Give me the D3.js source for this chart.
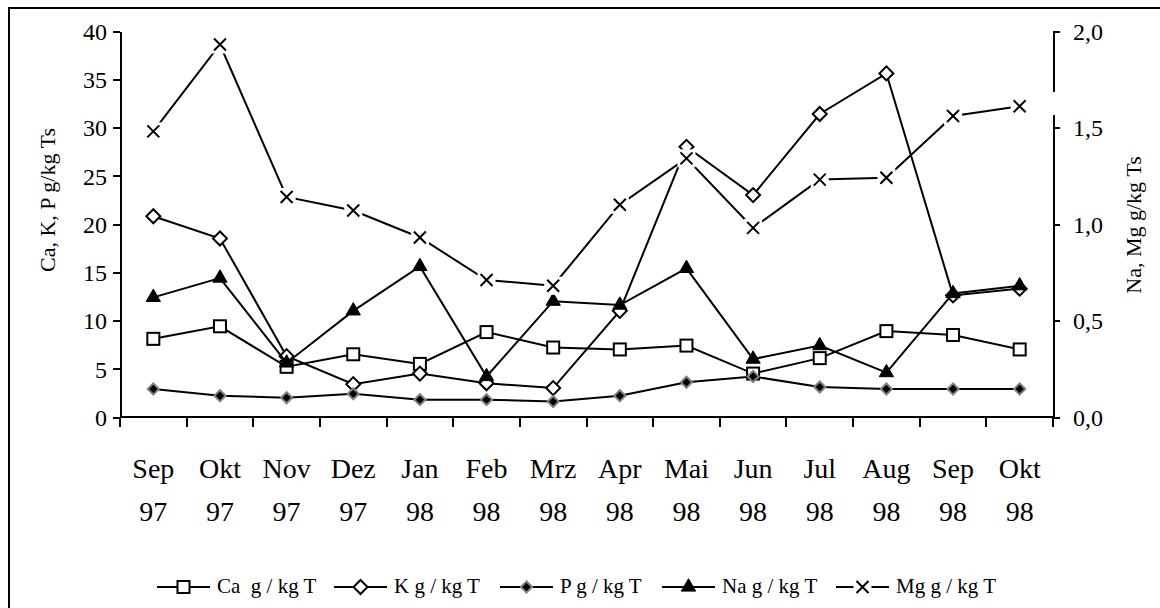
<!DOCTYPE html>
<html>
<head>
<meta charset="utf-8">
<script src="https://cdn.jsdelivr.net/npm/d3@7"></script>
<style>
    body { margin: 0; background: #fff; }
    svg { display: block; font-family: "Liberation Serif", "Times New Roman", serif; }
    .axis path, .axis line { stroke: #000; stroke-width: 2px; shape-rendering: crispEdges; }
    .axis text { fill: #000; font-family: "Liberation Serif", "Times New Roman", serif; }
</style>
</head>
<body>
<div id="chart"></div>
<script>

// Categories (month + year, split into two lines on the axis)
var categories = ["Sep 97", "Okt 97", "Nov 97", "Dez 97", "Jan 98", "Feb 98", "Mrz 98",
                  "Apr 98", "Mai 98", "Jun 98", "Jul 98", "Aug 98", "Sep 98", "Okt 98"];

// Left axis series (g/kg Ts)
var caValues = [8.1, 9.4, 5.2, 6.5, 5.5, 8.8, 7.2, 7.0, 7.4, 4.5, 6.1, 8.9, 8.5, 7.0];
var kValues  = [20.8, 18.5, 6.3, 3.4, 4.5, 3.5, 3.0, 11.0, 28.0, 23.0, 31.4, 35.6, 12.6, 13.3];
var pValues  = [2.9, 2.2, 2.0, 2.4, 1.8, 1.8, 1.6, 2.2, 3.6, 4.2, 3.1, 2.9, 2.9, 2.9];

// Right axis series (g/kg Ts)
var naValues = [0.62, 0.72, 0.28, 0.55, 0.78, 0.21, 0.60, 0.58, 0.77, 0.30, 0.37, 0.23, 0.64, 0.68];
var mgValues = [1.48, 1.93, 1.14, 1.07, 0.93, 0.71, 0.68, 1.10, 1.34, 0.98, 1.23, 1.24, 1.56, 1.61];

// Tick values
var leftTicks = [0, 5, 10, 15, 20, 25, 30, 35, 40];
var rightTicks = [0, 0.5, 1, 1.5, 2];

var legendLabels = ["Ca  g / kg T", "K g / kg T", "P g / kg T", "Na g / kg T", "Mg g / kg T"];

(function(d3) {

    var width = 1160, height = 608;
    var plot = {left: 120, right: 1053, top: 31, bottom: 417};

    var svg = d3.select("#chart").append("svg")
        .attr("width", width)
        .attr("height", height);

    // outer frame (runs off the right and bottom edge)
    svg.append("rect")
        .attr("x", 9).attr("y", 8)
        .attr("width", 1200).attr("height", 700)
        .attr("fill", "none").attr("stroke", "#000").attr("stroke-width", 2);

    // scales
    var x = d3.scaleBand().domain(categories).range([plot.left, plot.right]);
    var yL = d3.scaleLinear().domain([0, 40]).range([plot.bottom, plot.top]);
    var yR = d3.scaleLinear().domain([0, 2]).range([plot.bottom, plot.top]);
    var cx = function(i) { return x(categories[i]) + x.bandwidth() / 2; };

    // left axis
    var leftAxis = svg.append("g")
        .attr("class", "axis")
        .attr("transform", "translate(" + plot.left + ",0)")
        .call(d3.axisLeft(yL).tickValues(leftTicks).tickSize(7).tickSizeOuter(0).tickPadding(6));
    leftAxis.selectAll("text").style("font-size", "24px").attr("dy", "0.35em");

    // right axis, with the little break near the top
    var rightAxis = svg.append("g")
        .attr("class", "axis")
        .attr("transform", "translate(" + plot.right + ",0)")
        .call(d3.axisRight(yR).tickValues(rightTicks).tickSize(7).tickSizeOuter(0).tickPadding(13)
            .tickFormat(function(d) { return d3.format(".1f")(d).replace(".", ","); }));
    rightAxis.selectAll("text").style("font-size", "24px").attr("dy", "0.35em");
    rightAxis.append("rect")
        .attr("x", -3).attr("width", 6)
        .attr("y", yR(1.684)).attr("height", yR(1.565) - yR(1.684))
        .attr("fill", "#fff");

    // x axis: ticks on category boundaries
    var xAxis = svg.append("g")
        .attr("class", "axis")
        .attr("transform", "translate(0," + plot.bottom + ")");
    xAxis.append("line")
        .attr("x1", plot.left).attr("x2", plot.right)
        .attr("y1", 0).attr("y2", 0);
    var bounds = categories.map(function(c) { return x(c); }).concat([plot.right]);
    xAxis.selectAll("line.tick")
        .data(bounds)
        .enter().append("line")
        .attr("class", "tick")
        .attr("x1", function(d) { return d; }).attr("x2", function(d) { return d; })
        .attr("y1", 0).attr("y2", 10);
    var labels = xAxis.selectAll("text")
        .data(categories)
        .enter().append("text")
        .attr("text-anchor", "middle")
        .style("font-size", "28px")
        .attr("transform", function(d) { return "translate(" + (x(d) + x.bandwidth() / 2) + ",0)"; });
    labels.append("tspan").attr("x", 0).attr("y", 61).text(function(d) { return d.split(" ")[0]; });
    labels.append("tspan").attr("x", 0).attr("y", 104).text(function(d) { return d.split(" ")[1]; });

    // axis titles
    svg.append("text")
        .attr("transform", "translate(55,200) rotate(-90)")
        .attr("text-anchor", "middle")
        .style("font-size", "22px")
        .text("Ca, K, P g/kg Ts");
    svg.append("text")
        .attr("transform", "translate(1141,225) rotate(-90)")
        .attr("text-anchor", "middle")
        .style("font-size", "22px")
        .text("Na, Mg g/kg Ts");

    // marker drawing helpers
    var diamondBig = d3.symbol().type(d3.symbolSquare).size(98);
    var diamondSmall = d3.symbol().type(d3.symbolSquare).size(62);
    var triangle = d3.symbol().type(d3.symbolTriangle).size(88);
    var crossPath = "M-6,-6L6,6M-6,6L6,-6";

    var markers = {
        square: function(g) {
            g.append("rect").attr("x", -6).attr("y", -6).attr("width", 12).attr("height", 12)
                .attr("fill", "#fff").attr("stroke", "#000").attr("stroke-width", 2);
        },
        diamond: function(g) {
            g.append("path").attr("d", diamondBig()).attr("transform", "rotate(45)")
                .attr("fill", "#fff").attr("stroke", "#000").attr("stroke-width", 2);
        },
        filledDiamond: function(g) {
            g.append("path").attr("d", diamondSmall()).attr("transform", "rotate(45)")
                .attr("fill", "#000").attr("stroke", "#808080").attr("stroke-width", 2);
        },
        triangle: function(g) {
            g.append("path").attr("d", triangle())
                .attr("fill", "#000").attr("stroke", "#000").attr("stroke-width", 1);
        },
        cross: function(g) {
            g.append("rect").attr("x", -9).attr("y", -9).attr("width", 18).attr("height", 18)
                .attr("fill", "#fff");
            g.append("path").attr("d", crossPath)
                .attr("fill", "none").attr("stroke", "#000").attr("stroke-width", 2);
        }
    };

    var series = [
        {values: caValues, scale: yL, marker: "square"},
        {values: kValues,  scale: yL, marker: "diamond"},
        {values: pValues,  scale: yL, marker: "filledDiamond"},
        {values: naValues, scale: yR, marker: "triangle"},
        {values: mgValues, scale: yR, marker: "cross"}
    ];

    // Draw lines then markers, series by series
    series.forEach(function(s) {
        var line = d3.line()
            .x(function(d, i) { return cx(i); })
            .y(function(d) { return s.scale(d); });
        var g = svg.append("g");
        g.append("path")
            .attr("d", line(s.values))
            .attr("fill", "none").attr("stroke", "#000").attr("stroke-width", 2);
        g.selectAll("g.m")
            .data(s.values)
            .enter().append("g")
            .attr("class", "m")
            .attr("transform", function(d, i) { return "translate(" + cx(i) + "," + s.scale(d) + ")"; })
            .each(function() { markers[s.marker](d3.select(this)); });
    });

    // legend
    var legendX = [157, 334, 500, 662, 836];
    var legend = svg.append("g").attr("transform", "translate(0,587)");
    series.forEach(function(s, i) {
        var item = legend.append("g").attr("transform", "translate(" + legendX[i] + ",0)");
        item.append("line").attr("x1", 0).attr("x2", 53).attr("y1", 0).attr("y2", 0)
            .attr("stroke", "#000").attr("stroke-width", 2);
        markers[s.marker](item.append("g").attr("transform", "translate(26.5,0)"));
        item.append("text")
            .attr("x", 60).attr("y", 6)
            .style("font-size", "21px")
            .attr("xml:space", "preserve")
            .text(legendLabels[i]);
    });

})(d3);
</script>
</body>
</html>
